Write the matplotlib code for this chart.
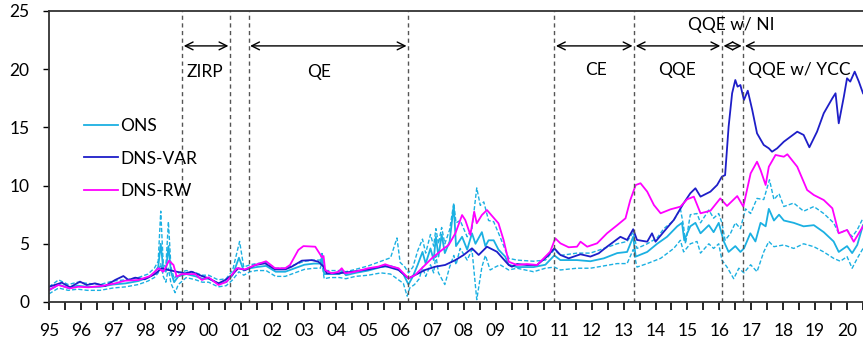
import matplotlib.pyplot as plt
from matplotlib.ticker import MultipleLocator, FixedLocator

plt.rcParams['font.family'] = ['Lato', 'DejaVu Sans']

# ONS central estimate and its bands (decimal year, value)
ons_t = [1995.0, 1995.3, 1995.6, 1995.9, 1996.2, 1996.6, 1997.0, 1997.4, 1997.8, 1998.1,
         1998.3, 1998.42, 1998.5, 1998.58, 1998.66, 1998.74, 1998.82, 1998.92, 1999.05, 1999.3,
         1999.6, 1999.8, 2000.0, 2000.3, 2000.55, 2000.75, 2000.95, 2001.1, 2001.3, 2001.5,
         2001.8, 2002.1, 2002.4, 2002.7, 2003.0, 2003.3, 2003.5, 2003.55, 2003.62, 2003.8,
         2004.1, 2004.2, 2004.3, 2004.6, 2005.0, 2005.4, 2005.7, 2005.9, 2006.1, 2006.26,
         2006.4, 2006.55, 2006.7, 2006.8, 2006.95, 2007.05, 2007.12, 2007.2, 2007.3, 2007.4,
         2007.55, 2007.68, 2007.75, 2007.94, 2008.1, 2008.25, 2008.36, 2008.56, 2008.67, 2008.77,
         2008.93, 2009.08, 2009.29, 2009.4, 2009.66, 2010.18, 2010.55, 2010.83, 2011.02, 2011.54,
         2011.96, 2012.38, 2012.8, 2013.11, 2013.3, 2013.38, 2013.74, 2014.05, 2014.36, 2014.68,
         2014.83, 2014.9, 2015.09, 2015.25, 2015.41, 2015.67, 2015.82, 2015.98, 2016.14, 2016.29,
         2016.5, 2016.66, 2016.77, 2016.97, 2017.13, 2017.29, 2017.45, 2017.55, 2017.71, 2017.87,
         2018.02, 2018.33, 2018.64, 2018.96, 2019.27, 2019.58, 2019.74, 2020.0, 2020.16, 2020.32,
         2020.5]
ons_v = [1.0, 1.5, 1.2, 1.4, 1.3, 1.3, 1.5, 1.6, 1.8, 2.1,
         2.5, 3.0, 5.0, 2.8, 2.6, 4.8, 2.6, 1.7, 2.2, 2.4,
         2.2, 2.0, 2.0, 1.6, 1.7, 2.3, 3.8, 2.7, 2.9, 3.0,
         3.1, 2.6, 2.6, 2.9, 3.2, 3.3, 3.3, 3.9, 2.4, 2.4,
         2.4, 2.7, 2.3, 2.5, 2.7, 3.0, 3.1, 2.9, 2.4, 1.5,
         2.2, 3.2, 4.3, 3.3, 4.6, 3.6, 5.6, 3.9, 5.8, 4.2,
         5.2, 8.3, 4.8, 5.6, 4.5, 5.9, 5.0, 6.0, 4.8, 5.3,
         5.3, 4.5, 3.9, 3.2, 3.0, 3.0, 3.2, 4.0, 3.6, 3.6,
         3.5, 3.75, 4.2, 4.3, 5.6, 3.9, 4.3, 5.0, 5.6, 6.5,
         6.8, 5.3, 6.5, 6.8, 5.9, 6.6, 6.0, 6.8, 5.2, 4.3,
         4.8, 4.3, 4.6, 5.9, 5.2, 6.8, 6.5, 8.0, 7.0, 7.5,
         7.0, 6.8, 6.5, 6.6, 6.0, 5.2, 4.3, 4.8, 4.2, 4.9,
         6.6]

ons_hi_t = [1995.0, 1995.3, 1995.6, 1995.9, 1996.2, 1996.6, 1997.0, 1997.4, 1997.8, 1998.1,
            1998.3, 1998.42, 1998.5, 1998.58, 1998.66, 1998.74, 1998.82, 1998.92, 1999.05, 1999.3,
            1999.6, 1999.8, 2000.0, 2000.3, 2000.55, 2000.75, 2000.97, 2001.1, 2001.3, 2001.5,
            2001.8, 2002.1, 2002.4, 2002.7, 2003.0, 2003.3, 2003.5, 2003.55, 2003.62, 2003.8,
            2004.1, 2004.3, 2004.6, 2005.0, 2005.4, 2005.7, 2005.9, 2006.0, 2006.15, 2006.26,
            2006.4, 2006.55, 2006.7, 2006.8, 2006.95, 2007.05, 2007.12, 2007.2, 2007.3, 2007.4,
            2007.55, 2007.68, 2007.75, 2007.88, 2008.1, 2008.25, 2008.4, 2008.51, 2008.62, 2008.77,
            2008.93, 2009.13, 2009.29, 2009.4, 2009.66, 2010.18, 2010.55, 2010.83, 2011.02, 2011.54,
            2011.96, 2012.38, 2012.8, 2013.11, 2013.3, 2013.42, 2013.74, 2014.05, 2014.26, 2014.57,
            2014.78, 2014.88, 2014.94, 2015.09, 2015.3, 2015.41, 2015.67, 2015.82, 2015.98, 2016.08,
            2016.18, 2016.35, 2016.5, 2016.66, 2016.82, 2016.98, 2017.18, 2017.39, 2017.57, 2017.71,
            2017.87, 2018.02, 2018.33, 2018.64, 2018.96, 2019.27, 2019.58, 2019.74, 2020.0, 2020.16,
            2020.32, 2020.5]
ons_hi_v = [1.3, 1.9, 1.5, 1.7, 1.6, 1.5, 1.8, 1.9, 2.1, 2.4,
            2.9, 3.5, 7.8, 3.2, 3.0, 6.9, 3.0, 2.0, 2.5, 2.7,
            2.5, 2.3, 2.3, 1.9, 2.0, 2.7, 5.2, 3.0, 3.2, 3.3,
            3.4, 2.9, 2.9, 3.2, 3.5, 3.6, 3.6, 4.3, 2.7, 2.7,
            2.7, 2.6, 2.8, 3.1, 3.5, 3.8, 5.5, 3.4, 3.0, 2.5,
            3.0, 4.4, 5.4, 4.2, 5.8, 4.8, 6.3, 5.0, 6.4, 5.0,
            6.2, 8.5, 6.8, 7.0, 5.6, 6.3, 9.8, 8.3, 8.6, 7.0,
            6.9, 5.6, 4.5, 3.75, 3.6, 3.5, 3.6, 4.5, 4.0, 4.2,
            4.2, 4.6, 5.0, 5.2, 6.0, 4.6, 5.0, 5.5, 6.3, 7.0,
            8.0, 6.5, 5.0, 7.5, 7.6, 6.8, 7.9, 7.2, 7.6, 6.8,
            5.3, 5.9, 6.8, 6.3, 8.0, 7.6, 8.9, 8.8, 10.5, 8.8,
            9.3, 8.2, 8.5, 7.8, 8.2, 7.6, 6.8, 5.9, 6.2, 5.6,
            6.2, 7.2]

ons_lo_t = [1995.0, 1995.3, 1995.6, 1995.9, 1996.2, 1996.6, 1997.0, 1997.4, 1997.8, 1998.1,
            1998.3, 1998.42, 1998.5, 1998.58, 1998.66, 1998.74, 1998.82, 1998.95, 1999.05, 1999.3,
            1999.6, 1999.8, 2000.0, 2000.3, 2000.55, 2000.75, 2000.95, 2001.1, 2001.3, 2001.5,
            2001.8, 2002.1, 2002.4, 2002.7, 2003.0, 2003.3, 2003.5, 2003.55, 2003.62, 2003.8,
            2004.1, 2004.3, 2004.6, 2005.0, 2005.4, 2005.7, 2005.9, 2006.1, 2006.22, 2006.3,
            2006.45, 2006.6, 2006.7, 2006.8, 2006.95, 2007.05, 2007.12, 2007.2, 2007.4, 2007.55,
            2007.68, 2007.75, 2007.88, 2008.1, 2008.25, 2008.4, 2008.56, 2008.67, 2008.82, 2008.98,
            2009.13, 2009.4, 2009.66, 2010.18, 2010.55, 2010.83, 2011.02, 2011.54, 2011.96, 2012.38,
            2012.8, 2013.11, 2013.3, 2013.42, 2013.74, 2014.16, 2014.57, 2014.78, 2014.88, 2015.09,
            2015.3, 2015.41, 2015.67, 2015.82, 2015.98, 2016.08, 2016.24, 2016.45, 2016.61, 2016.77,
            2016.98, 2017.18, 2017.39, 2017.55, 2017.71, 2018.02, 2018.33, 2018.64, 2018.96, 2019.27,
            2019.58, 2019.79, 2020.0, 2020.16, 2020.32, 2020.5]
ons_lo_v = [0.7, 1.2, 1.0, 1.1, 1.0, 1.0, 1.2, 1.3, 1.5, 1.8,
            2.1, 2.5, 3.3, 2.2, 1.7, 2.9, 1.6, 0.8, 1.5, 2.1,
            1.9, 1.7, 1.7, 1.3, 1.4, 1.9, 2.6, 2.3, 2.6, 2.7,
            2.7, 2.2, 2.2, 2.5, 2.8, 2.9, 2.9, 3.4, 2.0, 2.1,
            2.1, 2.0, 2.2, 2.3, 2.5, 2.4, 2.0, 1.6, 0.5, 1.2,
            1.5, 2.0, 3.0, 2.2, 3.2, 2.5, 4.0, 2.5, 1.5, 3.0,
            4.0, 3.2, 4.6, 3.6, 4.5, 0.2, 3.0, 4.0, 2.75, 3.0,
            3.2, 2.75, 2.9, 2.6, 2.9, 3.0, 2.75, 2.9, 2.9, 3.1,
            3.3, 3.3, 4.5, 3.0, 3.3, 3.75, 4.6, 5.3, 4.3, 5.0,
            5.2, 4.2, 5.0, 4.6, 5.0, 3.6, 3.0, 2.0, 2.9, 2.5,
            3.2, 2.6, 4.3, 5.2, 4.75, 4.9, 4.6, 5.0, 4.75, 4.3,
            3.75, 3.5, 3.9, 2.9, 3.75, 4.6]

# DNS-VAR
var_t = [1995.0, 1995.4, 1995.66, 1995.97, 1996.18, 1996.44, 1996.76, 1997.07, 1997.33, 1997.49,
         1997.7, 1998.0, 1998.32, 1998.53, 1998.74, 1999.0, 1999.26, 1999.47, 1999.79, 2000.0,
         2000.31, 2000.52, 2000.73, 2000.93, 2001.14, 2001.46, 2001.77, 2002.08, 2002.4, 2002.6,
         2002.92, 2003.23, 2003.44, 2003.6, 2003.7, 2004.07, 2004.49, 2005.0, 2005.53, 2005.95,
         2006.26, 2006.47, 2006.78, 2007.1, 2007.41, 2007.73, 2007.99, 2008.25, 2008.46, 2008.72,
         2009.03, 2009.4, 2009.5, 2009.66, 2009.97, 2010.29, 2010.6, 2010.83, 2011.02, 2011.28,
         2011.65, 2011.96, 2012.22, 2012.48, 2012.9, 2013.11, 2013.3, 2013.42, 2013.74, 2013.89,
         2014.0, 2014.26, 2014.57, 2014.88, 2015.09, 2015.25, 2015.41, 2015.72, 2015.93, 2016.08,
         2016.18, 2016.29, 2016.4, 2016.5, 2016.57, 2016.66, 2016.77, 2016.89, 2017.03, 2017.18,
         2017.39, 2017.55, 2017.65, 2017.81, 2018.02, 2018.23, 2018.44, 2018.64, 2018.82, 2019.06,
         2019.27, 2019.54, 2019.64, 2019.74, 2019.9, 2020.0, 2020.1, 2020.24, 2020.37, 2020.5]
var_v = [1.3, 1.66, 1.26, 1.75, 1.46, 1.6, 1.37, 1.89, 2.23, 1.89,
         2.09, 1.95, 2.4, 2.9, 2.75, 2.6, 2.46, 2.6, 2.23, 2.03,
         1.6, 1.89, 2.32, 2.9, 2.75, 3.18, 3.32, 2.8, 2.8, 3.03,
         3.55, 3.6, 3.46, 3.04, 2.46, 2.46, 2.6, 2.8, 3.09, 2.75,
         2.03, 2.32, 2.75, 3.03, 3.18, 3.6, 4.04, 4.61, 4.04, 4.75,
         4.32, 3.18, 3.03, 3.26, 3.18, 3.18, 3.9, 4.61, 4.04, 3.75,
         4.1, 3.9, 4.18, 4.75, 5.6, 5.33, 6.25, 5.33, 5.18, 5.9,
         5.18, 6.04, 7.04, 8.48, 9.34, 9.77, 9.05, 9.48, 10.05, 10.77,
         10.9, 15.06, 17.93, 19.07, 18.5, 18.64, 17.35, 18.15, 16.5, 14.49,
         13.49, 13.2, 12.91, 13.2, 13.77, 14.2, 14.63, 14.35, 13.29, 14.63,
         16.21, 17.5, 17.93, 15.35, 17.64, 19.22, 18.93, 19.79, 18.93, 17.93]

# DNS-RW
rw_t = [1995.0, 1995.29, 1995.66, 1995.92, 1996.23, 1996.65, 1997.07, 1997.38, 1997.8, 1998.17,
        1998.43, 1998.58, 1998.76, 1998.9, 1999.0, 1999.16, 1999.58, 1999.79, 2000.0, 2000.31,
        2000.57, 2000.88, 2001.14, 2001.46, 2001.8, 2002.08, 2002.4, 2002.55, 2002.81, 2002.97,
        2003.34, 2003.44, 2003.55, 2003.6, 2003.65, 2003.86, 2004.07, 2004.17, 2004.28, 2004.59,
        2005.0, 2005.32, 2005.53, 2005.74, 2005.95, 2006.26, 2006.47, 2006.68, 2006.99, 2007.31,
        2007.52, 2007.73, 2007.94, 2008.04, 2008.2, 2008.32, 2008.4, 2008.56, 2008.72, 2008.88,
        2009.08, 2009.24, 2009.4, 2009.66, 2009.97, 2010.29, 2010.55, 2010.7, 2010.86, 2011.02,
        2011.28, 2011.54, 2011.65, 2011.86, 2012.17, 2012.48, 2012.8, 2013.06, 2013.21, 2013.38,
        2013.53, 2013.74, 2013.95, 2014.16, 2014.47, 2014.78, 2014.99, 2015.2, 2015.41, 2015.72,
        2016.03, 2016.24, 2016.56, 2016.75, 2016.98, 2017.18, 2017.29, 2017.45, 2017.55, 2017.76,
        2018.02, 2018.13, 2018.44, 2018.75, 2018.96, 2019.27, 2019.54, 2019.74, 2020.0, 2020.21,
        2020.5]
rw_v = [1.03, 1.46, 1.17, 1.31, 1.26, 1.37, 1.6, 1.83, 1.89, 2.23,
        2.9, 2.6, 3.55, 3.18, 2.18, 2.4, 2.4, 1.89, 2.12, 1.46,
        1.75, 2.9, 2.8, 3.18, 3.5, 2.9, 2.9, 3.18, 4.47, 4.8,
        4.75, 4.32, 3.84, 3.95, 2.75, 2.46, 2.6, 2.9, 2.46, 2.6,
        2.9, 3.04, 3.24, 3.04, 2.9, 2.03, 2.32, 2.9, 3.75, 4.47,
        4.9, 5.9, 7.47, 7.04, 5.76, 7.76, 6.76, 7.47, 7.9, 7.39,
        6.76, 5.33, 3.46, 3.18, 3.26, 3.18, 3.9, 4.32, 5.47, 5.04,
        4.7, 4.75, 5.18, 4.75, 5.04, 5.9, 6.6, 7.19, 8.76, 10.05,
        10.2, 9.48, 8.33, 7.62, 7.96, 8.19, 8.82, 9.05, 7.62, 7.84,
        8.9, 8.25, 9.1, 8.19, 11.05, 12.05, 11.34, 10.05, 11.62, 12.63,
        12.48, 12.69, 11.62, 9.62, 9.19, 8.76, 8.05, 5.9, 6.19, 5.18,
        6.5]

# policy regime boundaries and labels
events = [1999.17, 2000.67, 2001.25, 2006.25, 2010.83, 2013.33, 2016.08, 2016.75]
regimes = ['ZIRP', 'QE', 'CE', 'QQE', 'QQE w/ NI', 'QQE w/ YCC']
regime_spans = [(1999.17, 2000.67), (2001.25, 2006.25), (2010.83, 2013.33),
                (2013.33, 2016.08), (2016.08, 2016.75), (2016.75, 2020.5)]
regime_label_x = [1999.89, 2003.46, 2012.14, 2014.68, 2016.38, 2018.51]
regime_label_y = [19.8, 19.8, 19.9, 19.9, 23.8, 19.9]

years = list(range(1995, 2021))
year_labels = ['%02d' % (y % 100) for y in years]

c_ons = '#1BB0E2'
c_var = '#1E1EC8'
c_rw = '#FF00FF'

fig = plt.figure(figsize=(8.63, 3.40), dpi=100)
ax = fig.add_axes([0.0568, 0.1118, 0.9432, 0.8559])

ax.plot(ons_hi_t, ons_hi_v, color=c_ons, lw=1.0, ls=(0, (3, 1.5)))
ax.plot(ons_lo_t, ons_lo_v, color=c_ons, lw=1.0, ls=(0, (3, 1.5)))
ons_line, = ax.plot(ons_t, ons_v, color=c_ons, lw=1.3)
var_line, = ax.plot(var_t, var_v, color=c_var, lw=1.3)
rw_line, = ax.plot(rw_t, rw_v, color=c_rw, lw=1.3)

for e in events:
    ax.axvline(e, color='#555555', lw=1.0, ls=(0, (3, 2.5)))

arrow_y = 22.0
for (a, b), name, lx, ly in zip(regime_spans, regimes, regime_label_x, regime_label_y):
    if b >= 2020.5:
        ax.annotate('', xy=(a + 0.05, arrow_y), xytext=(b + 0.2, arrow_y),
                    arrowprops=dict(arrowstyle='->', color='black', lw=1.0,
                                    shrinkA=0, shrinkB=0, mutation_scale=14),
                    annotation_clip=False)
    else:
        ax.annotate('', xy=(a + 0.05, arrow_y), xytext=(b - 0.05, arrow_y),
                    arrowprops=dict(arrowstyle='<->', color='black', lw=1.0,
                                    shrinkA=0, shrinkB=0, mutation_scale=14))
    ax.text(lx, ly, name, ha='center', va='center', fontsize=12.5)

ax.set_xlim(1995, 2020.5)
ax.set_ylim(0, 25)
ax.set_yticks([0, 5, 10, 15, 20, 25])
ax.xaxis.set_major_locator(FixedLocator(years))
ax.set_xticklabels(year_labels)
ax.xaxis.set_minor_locator(MultipleLocator(0.5))
ax.tick_params(axis='x', which='both', direction='out', length=6, width=1.2, labelsize=12.5, pad=9)
ax.tick_params(axis='y', direction='out', length=4, width=1.0, labelsize=12.5, pad=10)

for side in ['left', 'bottom', 'top']:
    ax.spines[side].set_color('#333333')
    ax.spines[side].set_linewidth(1.3)
ax.spines['right'].set_visible(False)

ax.legend([ons_line, var_line, rw_line], ['ONS', 'DNS-VAR', 'DNS-RW'],
          loc='upper left', bbox_to_anchor=(0.034, 0.656), frameon=False,
          fontsize=12.5, handlelength=2.0, handletextpad=0.1, labelspacing=0.95,
          borderaxespad=0)

fig.savefig('out.png', dpi=100)
